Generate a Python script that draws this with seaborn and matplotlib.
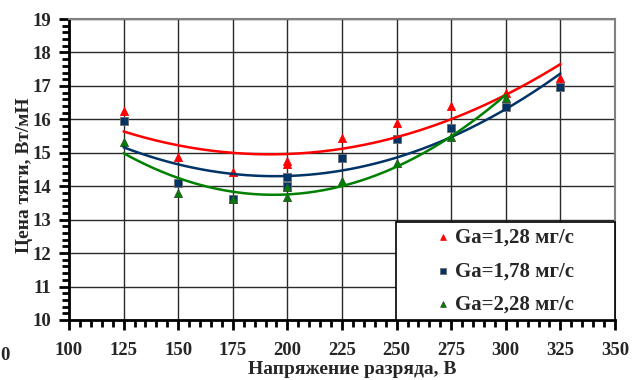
import numpy as np
import pandas as pd
import seaborn as sns
import matplotlib
matplotlib.use("Agg")
import matplotlib.pyplot as plt
from matplotlib.ticker import MultipleLocator

# Discharge voltage, V
voltage_a = [125, 150, 175, 200, 200, 225, 250, 275, 300, 325]
voltage_b = [125, 150, 175, 200, 200, 225, 250, 275, 300, 325]
voltage_c = [125, 150, 175, 200, 200, 225, 250, 275, 300]

# Thrust price, W/mN
price_a = [16.25, 14.88, 14.44, 14.75, 14.65, 15.45, 15.90, 16.40, 16.80, 17.24]
price_b = [15.96, 14.09, 13.61, 14.28, 14.00, 14.85, 15.42, 15.73, 16.36, 16.97]
price_c = [15.33, 13.81, 13.62, 13.98, 13.68, 14.16, 14.70, 15.48, 16.63]

labels = ["Ga=1,28 мг/с", "Ga=1,78 мг/с", "Ga=2,28 мг/с"]
x_ticks = [100, 125, 150, 175, 200, 225, 250, 275, 300, 325, 350]
y_ticks = [10, 11, 12, 13, 14, 15, 16, 17, 18, 19]

sns.set_theme(style="white")
plt.rcParams["font.family"] = ["Liberation Serif", "DejaVu Serif"]
plt.rcParams["font.weight"] = "bold"

fig = plt.figure(figsize=(6.44, 3.80), dpi=100)
ax = fig.add_axes([69 / 644, 1 - 320 / 380, 546 / 644, 301 / 380])

series = [
    (voltage_a, price_a, labels[0], "^", "#ff0000", "#ff0000", 34),
    (voltage_b, price_b, labels[1], "s", "#003366", "#6d6d6d", 30),
    (voltage_c, price_c, labels[2], "^", "#008000", "#2f4f2f", 34),
]

for vx, py, lab, mk, col, edge, size in series:
    sns.scatterplot(x=vx, y=py, marker=mk, color=col, edgecolor=edge,
                    linewidth=0.6, s=size, label=lab, ax=ax, zorder=3)

# Second-order polynomial trend lines
for vx, py, lab, mk, col, edge, size in series:
    coef = np.polyfit(vx, py, 2)
    xs = np.linspace(min(vx), max(vx), 200)
    trend = pd.DataFrame({"x": xs, "y": np.polyval(coef, xs)})
    sns.lineplot(data=trend, x="x", y="y", color=col, lw=1.8, ax=ax,
                 legend=False, zorder=4)

ax.set_xlim(100, 350)
ax.set_ylim(10, 19)
ax.set_xticks(x_ticks)
ax.set_yticks(y_ticks)
ax.xaxis.set_minor_locator(MultipleLocator(5))
ax.yaxis.set_minor_locator(MultipleLocator(0.2))
ax.grid(True, which="major", color="#2a2a2a", lw=1.0)
ax.set_axisbelow(True)

for side in ("left", "bottom"):
    ax.spines[side].set_color("black")
    ax.spines[side].set_linewidth(2.0)
for side in ("top", "right"):
    ax.spines[side].set_color("#808080")
    ax.spines[side].set_linewidth(1.5)

ax.tick_params(which="major", direction="out", length=7, width=2,
               color="black", labelsize=13.5, bottom=True, left=True)
ax.tick_params(axis="x", which="major", pad=9)
ax.tick_params(axis="y", which="major", pad=6)
ax.tick_params(which="minor", direction="out", length=5, width=2,
               color="black", bottom=True, left=True)
for lbl in ax.get_xticklabels() + ax.get_yticklabels():
    lbl.set_fontweight("bold")

ax.set_xlabel("Напряжение разряда, В", fontsize=14, fontweight="bold", va="center")
ax.set_ylabel("Цена тяги, Вт/мН", fontsize=14, fontweight="bold", va="center")
ax.xaxis.set_label_coords(0.518, -0.163)
ax.yaxis.set_label_coords(-0.082, 0.48)

leg = ax.legend(loc="lower right", bbox_to_anchor=(0.599, 0.0, 0.401, 0.336),
                mode="expand", borderaxespad=0, frameon=True, fancybox=False,
                prop={"family": "Liberation Serif", "weight": "bold", "size": 15},
                markerscale=0.7, handlelength=4.0, handletextpad=-1.4,
                labelspacing=0.65, borderpad=0.25)
leg.get_frame().set_edgecolor("black")
leg.get_frame().set_linewidth(1.2)
leg.get_frame().set_facecolor("white")
leg.get_frame().set_alpha(1)
leg.set_zorder(5)

fig.text(0.0, 1 - 355 / 380, "0", fontsize=13.5, fontweight="bold",
         ha="left", va="center")

fig.savefig("out.png", dpi=100)
